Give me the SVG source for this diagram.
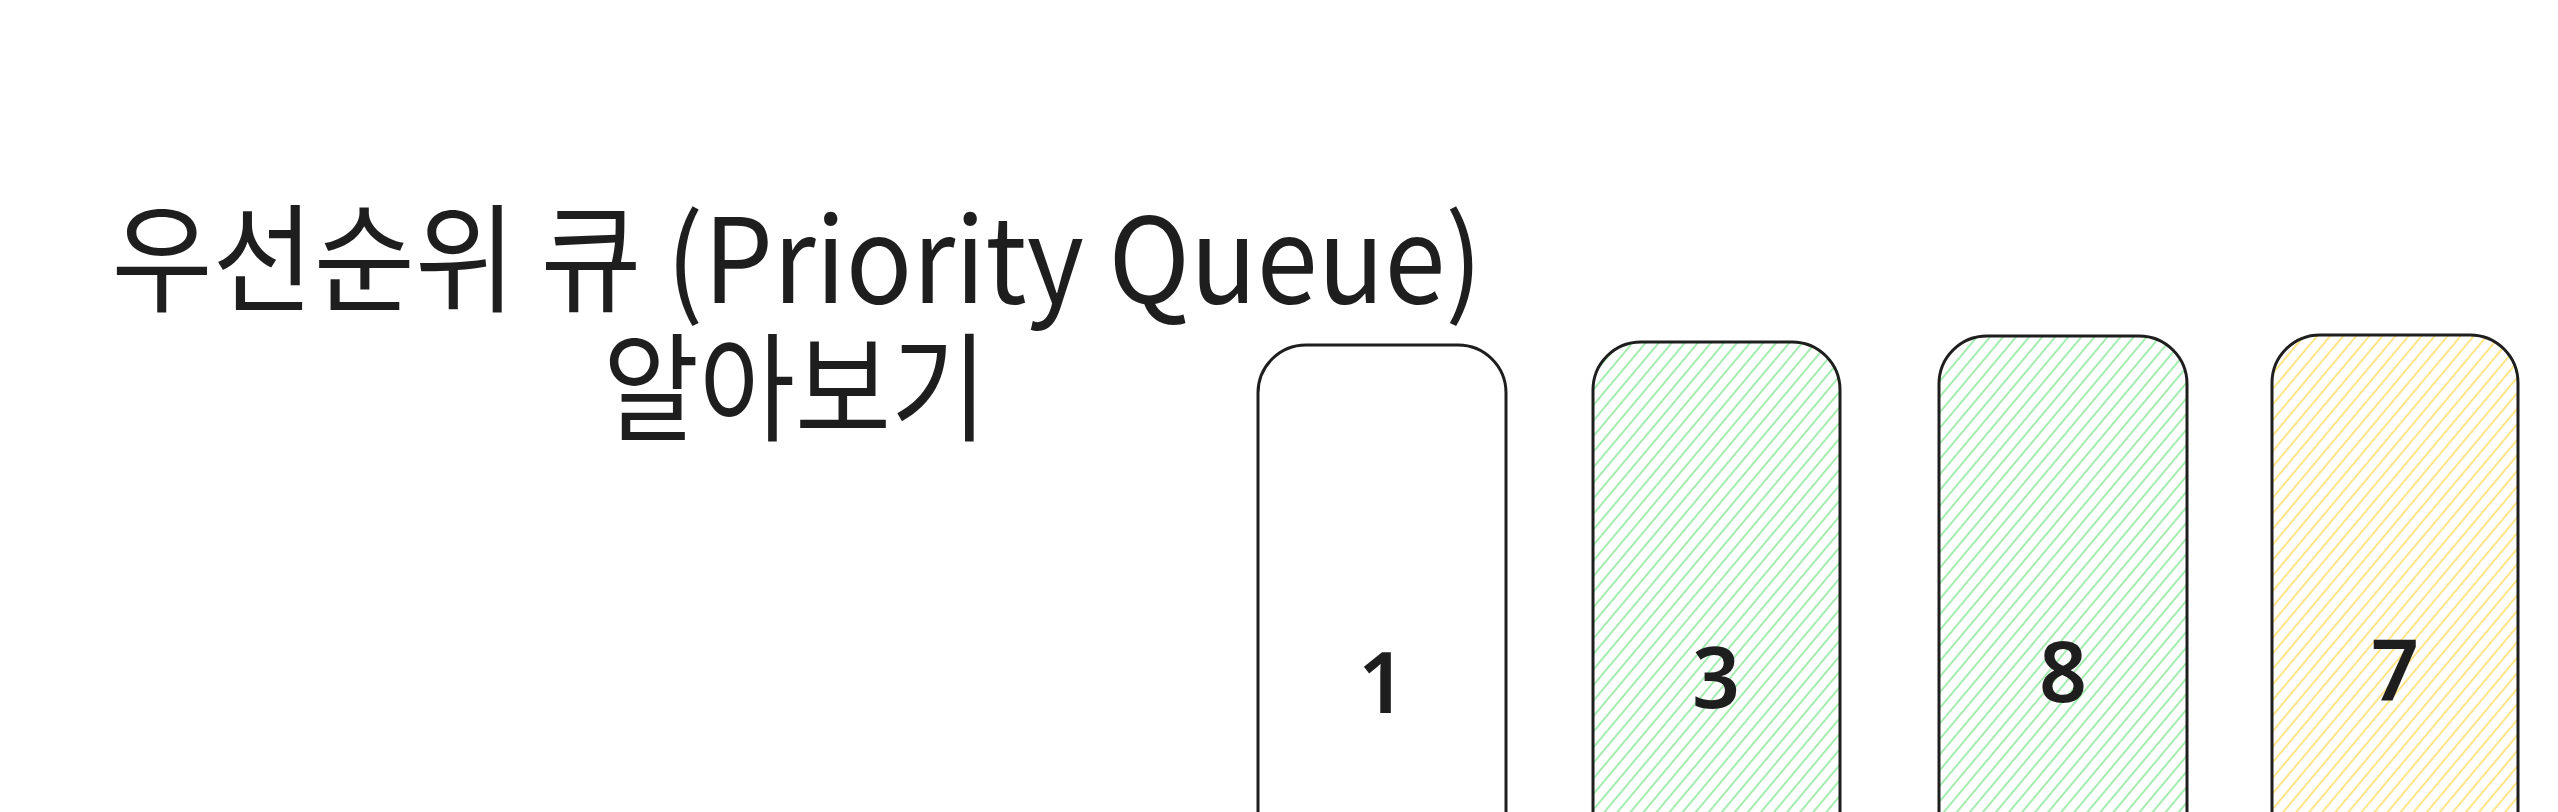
<svg xmlns="http://www.w3.org/2000/svg" width="2558" height="812" viewBox="0 0 2558 812">
  <style>
    .title { font-family: "Noto Sans CJK KR", "Noto Sans", sans-serif; font-size: 118px; fill: #1e1e1e; text-anchor: middle; }
    .box { stroke: #1e1e1e; stroke-width: 3; }
    .num { font-family: "Noto Sans", "Liberation Sans", sans-serif; font-weight: 600; font-size: 84px; fill: #1e1e1e; text-anchor: middle; }
  </style>
  <defs>
    <pattern id="hGreen" patternUnits="userSpaceOnUse" width="10" height="20" patternTransform="rotate(40)">
      <line x1="1" y1="0" x2="1" y2="20" stroke="#a5ecb0" stroke-width="2"/>
    </pattern>
    <pattern id="hYellow" patternUnits="userSpaceOnUse" width="10" height="20" patternTransform="rotate(40)">
      <line x1="1" y1="0" x2="1" y2="20" stroke="#ffe588" stroke-width="2"/>
    </pattern>
  </defs>
  <rect x="0" y="0" width="2558" height="812" fill="#ffffff"/>

  <g id="title">
    <text class="title"><tspan x="797" y="303" textLength="1371" lengthAdjust="spacingAndGlyphs">우선순위 큐 (Priority Queue)</tspan><tspan x="795" y="432" textLength="384" lengthAdjust="spacingAndGlyphs">알아보기</tspan></text>
  </g>

  <g id="node-1">
    <rect class="box" x="1258" y="345" width="248" height="560" rx="48" ry="48" fill="#ffffff"/>
    <text class="num" x="1382" y="713">1</text>
  </g>
  <g id="node-3">
    <rect class="box" x="1593" y="342" width="247" height="560" rx="48" ry="48" fill="url(#hGreen)"/>
    <text class="num" x="1716" y="708">3</text>
  </g>
  <g id="node-8">
    <rect class="box" x="1939" y="336" width="248" height="560" rx="48" ry="48" fill="url(#hGreen)"/>
    <text class="num" x="2063" y="702">8</text>
  </g>
  <g id="node-7">
    <rect class="box" x="2272" y="335" width="246" height="560" rx="48" ry="48" fill="url(#hYellow)"/>
    <text class="num" x="2395" y="701">7</text>
  </g>

  <g id="connectors"></g>
</svg>
